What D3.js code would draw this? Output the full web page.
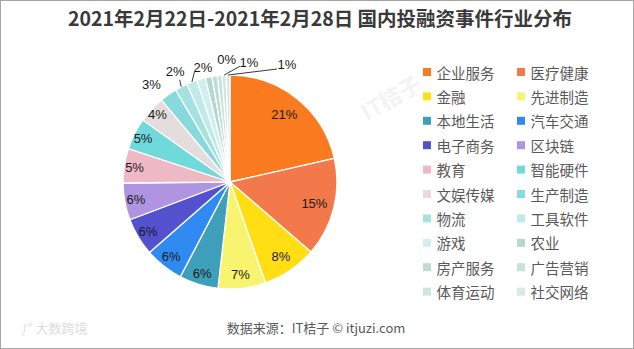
<!DOCTYPE html>
<html><head><meta charset="utf-8">
<script src="https://cdn.jsdelivr.net/npm/d3@7"></script>
<style>
html,body{margin:0;padding:0;background:#fff;}
svg{display:block;}
</style></head>
<body>
<svg id="chart" width="634" height="349"></svg>
<script>
// ---- data ----
const title = "2021年2月22日-2021年2月28日 国内投融资事件行业分布";
const source = "数据来源：IT桔子  © itjuzi.com";
const categories = ["企业服务","医疗健康","金融","先进制造","本地生活","汽车交通","电子商务","区块链","教育","智能硬件","文娱传媒","生产制造","物流","工具软件","游戏","农业","房产服务","广告营销","体育运动","社交网络"];
const shares = [21.5,14.9,8.3,7.2,5.9,5.9,5.7,5.6,5.2,4.8,4.1,2.6,1.9,1.6,1.3,1.0,0.8,0.7,0.6,0.6];
const shareLabels = ["21%","15%","8%","7%","6%","6%","6%","6%","5%","5%","4%","3%","2%","2%","","","","0%","1%","1%"];
const colors = ["#F97A1F","#F3794A","#FFDF14","#F9F46F","#3D9FB9","#2F8BF2","#5451CF","#AF95E1","#EEB8C4","#70DADA","#E5DDDD","#86DADC","#A6E1E2","#C0EAEA","#D0EDEF","#B3D8CC","#BDDCD2","#C7E2D9","#CEE5DE","#D6E9E4"];

// ---- layout ----
const W = 634, H = 349;
const cx = 230, cy = 182, R = 107;
// outside label placement relative to slice outer-edge midpoint: [textDx, textDy, lineDx, lineDy]
const outsideLayout = {
  "生产制造": [-17, -10, null, null],
  "物流": [-6, -15, -1.5, -7],
  "工具软件": [11, -15, 2.5, -10],
  "广告营销": [7, -16, null, null],
  "体育运动": [25, -13, 16, -9],
  "社交网络": [59, -10.5, 49, -6]
};

const svg = d3.select("#chart");
svg.append("rect").attr("x",0.5).attr("y",0.5).attr("width",W-1).attr("height",H-1)
  .attr("fill","#fff").attr("stroke","#a6a6a6").attr("stroke-width",1);

// faint watermarks
svg.append("text").attr("transform","translate(395,105) rotate(-30)")
  .attr("text-anchor","middle").attr("font-family","Noto Sans CJK SC").attr("font-size",22)
  .attr("font-weight","bold").attr("fill","#f3f3f3").text("IT桔子");
svg.append("text").attr("x",22).attr("y",333)
  .attr("font-family","Noto Sans CJK SC").attr("font-size",13)
  .attr("fill","#dcdcdc").text("ᶘ° 大数跨境");

// title
svg.append("text").attr("x",320).attr("y",17).attr("text-anchor","middle")
  .attr("dominant-baseline","central")
  .attr("font-family","'Noto Sans CJK SC'").attr("font-size",19.5).attr("font-weight","bold")
  .attr("fill","#3a3a3a").text(title);

// pie
const data = categories.map((c,i)=>({cat:c, value:shares[i], label:shareLabels[i], color:colors[i]}));
const pie = d3.pie().value(d=>d.value).sort(null).startAngle(0).endAngle(2*Math.PI);
const arcs = pie(data);
const arc = d3.arc().innerRadius(0).outerRadius(R);
const g = svg.append("g").attr("transform",`translate(${cx},${cy})`);
g.selectAll("path.slice").data(arcs).join("path").attr("class","slice")
  .attr("d",arc).attr("fill",d=>d.data.color)
  .attr("stroke","#fff").attr("stroke-width",1.3).attr("stroke-linejoin","round");

const mid = d=>(d.startAngle+d.endAngle)/2;
const lblFont = "'Liberation Sans', Arial, sans-serif";
// inside labels
arcs.filter(d=>d.data.label && !outsideLayout[d.data.cat]).forEach(d=>{
  const pct = d.value;
  const dist = 87 + Math.max(0,(10-pct))*2;
  const a = mid(d);
  g.append("text").attr("x",Math.sin(a)*dist).attr("y",-Math.cos(a)*dist)
    .attr("text-anchor","middle").attr("dominant-baseline","central")
    .attr("font-family",lblFont).attr("font-size",13).attr("fill","#1a1a1a")
    .text(d.data.label);
});
// outside labels
arcs.filter(d=>d.data.label && outsideLayout[d.data.cat]).forEach(d=>{
  const a = mid(d);
  const ex = Math.sin(a)*R, ey = -Math.cos(a)*R;
  const [tx,ty,lx,ly] = outsideLayout[d.data.cat];
  if(lx!==null){
    g.append("line").attr("x1",ex).attr("y1",ey).attr("x2",ex+lx).attr("y2",ey+ly)
      .attr("stroke","#222").attr("stroke-width",0.9);
  }
  g.append("text").attr("x",ex+tx).attr("y",ey+ty)
    .attr("text-anchor","middle").attr("dominant-baseline","central")
    .attr("font-family",lblFont).attr("font-size",13).attr("fill","#1a1a1a")
    .text(d.data.label);
});

// legend
const colX = d3.scaleOrdinal().domain([0,1]).range([423,517]);
const rowY = d3.scaleLinear().domain([0,1]).range([72,96.4]);
const lg = svg.append("g");
data.forEach((d,i)=>{
  const col = i%2, row = Math.floor(i/2);
  const x = colX(col), y = rowY(row);
  lg.append("rect").attr("x",x).attr("y",y-4).attr("width",8).attr("height",8).attr("fill",d.color);
  lg.append("text").attr("x",x+13.5).attr("y",y).attr("dominant-baseline","central")
    .attr("font-family","'Noto Sans CJK SC'").attr("font-size",14.5).attr("fill","#595959")
    .text(d.cat);
});

// source
svg.append("text").attr("x",316).attr("y",327).attr("text-anchor","middle")
  .attr("dominant-baseline","central")
  .attr("font-family","'Noto Sans CJK SC'").attr("font-size",13).attr("fill","#595959")
  .text(source);
</script>
</body></html>
